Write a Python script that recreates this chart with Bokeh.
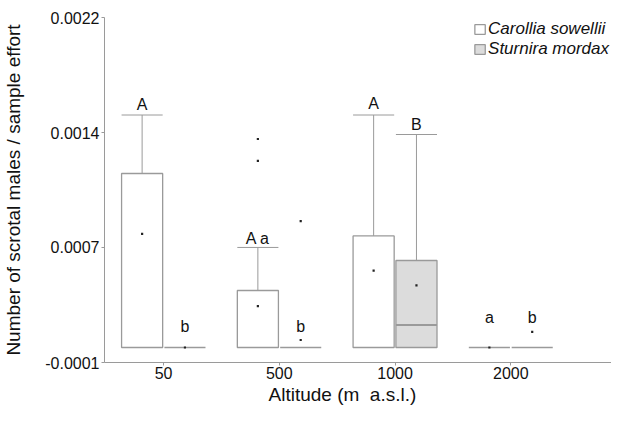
from bokeh.plotting import figure
from bokeh.models import Range1d, FixedTicker, ColumnDataSource, Legend, LegendItem, Title
from bokeh.embed import file_html
from bokeh.resources import INLINE
from bokeh.core.properties import value

# ---------------- data ----------------
altitudes = ["50", "500", "1000", "2000"]
species = ["Carollia sowellii", "Sturnira mordax"]

carollia_q1 = [0.0, 0.0, 0.0, 0.0]
carollia_median = [0.0, 0.0, 0.0, 0.0]
carollia_q3 = [0.00116, 0.00038, 0.000744, 0.0]
carollia_upper = [0.00155, 0.000667, 0.00155, 0.0]
carollia_mean = [0.000757, 0.000276, 0.000513, 0.0]
carollia_outliers = [[], [0.00139, 0.001244], [], []]
carollia_letters = ["A", "A a", "A", "a"]
carollia_letter_y = [0.00162, 0.00073, 0.001627, 0.000203]

sturnira_q1 = [0.0, 0.0, 0.0, 0.0]
sturnira_median = [0.0, 0.0, 0.00015, 0.0]
sturnira_q3 = [0.0, 0.0, 0.00058, 0.0]
sturnira_upper = [0.0, 0.0, 0.00142, 0.0]
sturnira_mean = [0.0, 0.00005, 0.000414, 0.000104]
sturnira_outliers = [[], [0.000842], [], []]
sturnira_letters = ["b", "b", "B", "b"]
sturnira_letter_y = [0.000137, 0.000137, 0.001488, 0.000203]

y_ticks = [-0.0001, 0.00066667, 0.00143333, 0.0022]
y_tick_labels = ["-0.0001", "0.0007", "0.0014", "0.0022"]

x_title = "Altitude (m\u00a0 a.s.l.)"
y_title = "Number of scrotal males / sample effort"

# ---------------- style ----------------
FONT = "Liberation Sans"
LINE = "#9a9a9a"
FILLS = ["#ffffff", "#dcdcdc"]
OFFSETS = [-0.185, 0.185]
BOX_W = 0.355

p = figure(width=611, height=405,
           x_range=Range1d(0.49, 4.87), y_range=Range1d(-0.0001, 0.0022),
           output_backend="svg", toolbar_location=None,
           min_border_left=100, min_border_right=0, min_border_top=17,
           min_border_bottom=30)
p.outline_line_color = None
p.xgrid.visible = False
p.ygrid.visible = False
p.background_fill_color = "white"

groups = [
    (carollia_q1, carollia_median, carollia_q3, carollia_upper, carollia_mean,
     carollia_outliers, carollia_letters, carollia_letter_y),
    (sturnira_q1, sturnira_median, sturnira_q3, sturnira_upper, sturnira_mean,
     sturnira_outliers, sturnira_letters, sturnira_letter_y),
]

box_renderers = []
for k, (q1, med, q3, up, mean, outl, letters, ly) in enumerate(groups):
    xs = [i + 1 + OFFSETS[k] for i in range(len(altitudes))]
    src = ColumnDataSource(dict(left=[x - BOX_W / 2 for x in xs],
                                right=[x + BOX_W / 2 for x in xs],
                                bottom=q1, top=q3))
    # whiskers
    wx, wy0, wy1, cx0, cx1 = [], [], [], [], []
    for x, a, b in zip(xs, q3, up):
        if b > a:
            wx.append(x); wy0.append(a); wy1.append(b)
            cx0.append(x - BOX_W / 2); cx1.append(x + BOX_W / 2)
    p.segment(x0=wx, y0=wy0, x1=wx, y1=wy1, line_color=LINE, line_width=1)
    p.segment(x0=cx0, y0=wy1, x1=cx1, y1=wy1, line_color=LINE, line_width=1)
    r = p.quad(left="left", right="right", bottom="bottom", top="top", source=src,
               fill_color=FILLS[k], line_color=LINE, line_width=1.3)
    box_renderers.append(r)
    # medians
    mx0, mx1, my = [], [], []
    for x, a, m in zip(xs, q1, med):
        if m > a:
            mx0.append(x - BOX_W / 2); mx1.append(x + BOX_W / 2); my.append(m)
    p.segment(x0=mx0, y0=my, x1=mx1, y1=my, line_color=LINE, line_width=2)
    # means
    p.scatter(x=xs, y=mean, marker="square", size=2.2, fill_color="#222222",
              line_color=None)
    # outliers
    ox, oy = [], []
    for x, vals in zip(xs, outl):
        for v in vals:
            ox.append(x); oy.append(v)
    p.scatter(x=ox, y=oy, marker="square", size=2.2, fill_color="#222222",
              line_color=None)
    # letters
    p.text(x=xs, y=ly, text=letters, text_align="center",
           text_baseline="alphabetic", text_font=value(FONT),
           text_font_size="16px", text_color="#111111")

# axes
p.xaxis.ticker = FixedTicker(ticks=[1, 2, 3, 4])
p.xaxis.major_label_overrides = {i + 1: a for i, a in enumerate(altitudes)}
p.yaxis.ticker = FixedTicker(ticks=y_ticks)
p.yaxis.major_label_overrides = dict(zip(y_ticks, y_tick_labels))
p.yaxis.axis_label = y_title
for ax in (p.xaxis[0], p.yaxis[0]):
    ax.axis_line_color = LINE
    ax.major_tick_line_color = LINE
    ax.major_tick_out = 3
    ax.major_tick_in = 0
    ax.minor_tick_line_color = None
    ax.major_label_standoff = 2
    ax.major_label_text_font = FONT
    ax.major_label_text_font_size = "16px"
    ax.major_label_text_color = "#111111"
    ax.axis_label_text_font = FONT
    ax.axis_label_text_font_size = "19px"
    ax.axis_label_text_font_style = "normal"
    ax.axis_label_text_color = "#111111"
p.yaxis.axis_label_standoff = 18
p.xaxis.major_label_standoff = 1

xt = Title(text=x_title, align="left", offset=164, standoff=1,
           text_font=FONT, text_font_size="19px", text_font_style="normal",
           text_color="#111111")
p.add_layout(xt, "below")

legend = Legend(items=[LegendItem(label=species[0], renderers=[box_renderers[0]]),
                       LegendItem(label=species[1], renderers=[box_renderers[1]])],
                location="top_right", margin=2, padding=0, spacing=0,
                glyph_width=13, glyph_height=12, label_standoff=2, label_height=20,
                label_text_font=FONT, label_text_font_size="17px",
                label_text_font_style="italic", label_text_color="#111111",
                border_line_color=None, background_fill_alpha=0)
p.add_layout(legend)

open("out.html", "w").write(file_html(p, INLINE))
